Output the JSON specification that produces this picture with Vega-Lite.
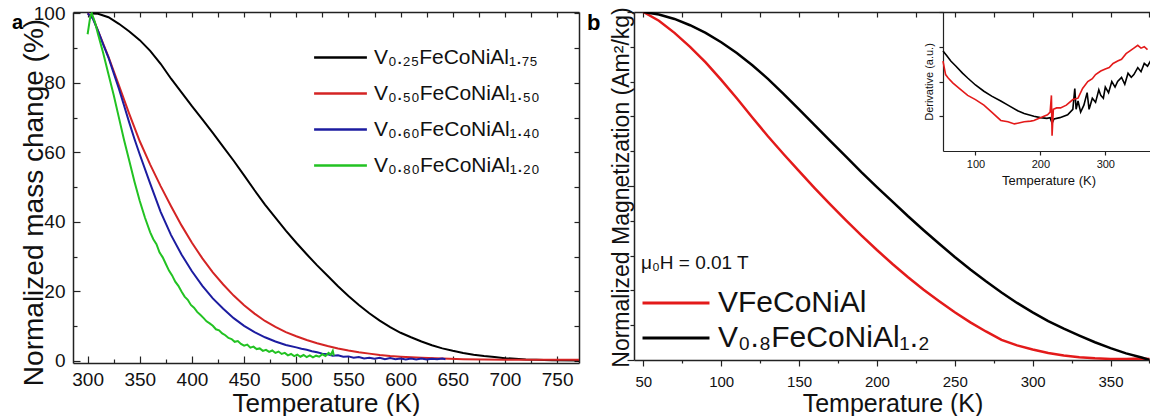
{
  "$schema": "https://vega.github.io/schema/vega-lite/v6.json",
  "padding": {"left": 12, "top": 4, "right": 0, "bottom": 0},
  "background": "white",
  "config": {
    "font": "Liberation Sans",
    "view": {"stroke": null},
    "axis": {"domainColor": "#222222", "domainWidth": 1.5, "tickColor": "#222222", "tickWidth": 1.2, "labelColor": "#111111", "titleColor": "#111111", "grid": false, "titleFontWeight": "normal", "labelFont": "Liberation Sans", "titleFont": "Liberation Sans"},
    "legend": {"labelFont": "Liberation Sans", "titleFont": "Liberation Sans", "labelColor": "#111111", "titleColor": "#111111", "padding": 0},
    "title": {"font": "Liberation Sans", "color": "#000000"}
  },
  "datasets": {
    "mass": [
      {"s": "V₀.₂₅FeCoNiAl₁.₇₅", "T": 303, "m": 100}, {"s": "V₀.₂₅FeCoNiAl₁.₇₅", "T": 310, "m": 99.9}, {"s": "V₀.₂₅FeCoNiAl₁.₇₅", "T": 320, "m": 98.9}, {"s": "V₀.₂₅FeCoNiAl₁.₇₅", "T": 330, "m": 97}, {"s": "V₀.₂₅FeCoNiAl₁.₇₅", "T": 340, "m": 94.8}, {"s": "V₀.₂₅FeCoNiAl₁.₇₅", "T": 350, "m": 92.3}, {"s": "V₀.₂₅FeCoNiAl₁.₇₅", "T": 360, "m": 89.2}, {"s": "V₀.₂₅FeCoNiAl₁.₇₅", "T": 370, "m": 85.5}, {"s": "V₀.₂₅FeCoNiAl₁.₇₅", "T": 380, "m": 81.2}, {"s": "V₀.₂₅FeCoNiAl₁.₇₅", "T": 390, "m": 77.3}, {"s": "V₀.₂₅FeCoNiAl₁.₇₅", "T": 400, "m": 73.3}, {"s": "V₀.₂₅FeCoNiAl₁.₇₅", "T": 410, "m": 69.5}, {"s": "V₀.₂₅FeCoNiAl₁.₇₅", "T": 420, "m": 65.6}, {"s": "V₀.₂₅FeCoNiAl₁.₇₅", "T": 430, "m": 61.6}, {"s": "V₀.₂₅FeCoNiAl₁.₇₅", "T": 440, "m": 57.6}, {"s": "V₀.₂₅FeCoNiAl₁.₇₅", "T": 450, "m": 53.4}, {"s": "V₀.₂₅FeCoNiAl₁.₇₅", "T": 460, "m": 49.1}, {"s": "V₀.₂₅FeCoNiAl₁.₇₅", "T": 470, "m": 45}, {"s": "V₀.₂₅FeCoNiAl₁.₇₅", "T": 480, "m": 41.2}, {"s": "V₀.₂₅FeCoNiAl₁.₇₅", "T": 490, "m": 37.5}, {"s": "V₀.₂₅FeCoNiAl₁.₇₅", "T": 500, "m": 34}, {"s": "V₀.₂₅FeCoNiAl₁.₇₅", "T": 510, "m": 30.7}, {"s": "V₀.₂₅FeCoNiAl₁.₇₅", "T": 520, "m": 27.5}, {"s": "V₀.₂₅FeCoNiAl₁.₇₅", "T": 530, "m": 24.5}, {"s": "V₀.₂₅FeCoNiAl₁.₇₅", "T": 540, "m": 21.5}, {"s": "V₀.₂₅FeCoNiAl₁.₇₅", "T": 550, "m": 18.7}, {"s": "V₀.₂₅FeCoNiAl₁.₇₅", "T": 560, "m": 16.1}, {"s": "V₀.₂₅FeCoNiAl₁.₇₅", "T": 570, "m": 13.7}, {"s": "V₀.₂₅FeCoNiAl₁.₇₅", "T": 580, "m": 11.6}, {"s": "V₀.₂₅FeCoNiAl₁.₇₅", "T": 590, "m": 9.7}, {"s": "V₀.₂₅FeCoNiAl₁.₇₅", "T": 600, "m": 8.1}, {"s": "V₀.₂₅FeCoNiAl₁.₇₅", "T": 610, "m": 6.8}, {"s": "V₀.₂₅FeCoNiAl₁.₇₅", "T": 620, "m": 5.6}, {"s": "V₀.₂₅FeCoNiAl₁.₇₅", "T": 630, "m": 4.5}, {"s": "V₀.₂₅FeCoNiAl₁.₇₅", "T": 640, "m": 3.6}, {"s": "V₀.₂₅FeCoNiAl₁.₇₅", "T": 650, "m": 2.9}, {"s": "V₀.₂₅FeCoNiAl₁.₇₅", "T": 660, "m": 2.3}, {"s": "V₀.₂₅FeCoNiAl₁.₇₅", "T": 670, "m": 1.8}, {"s": "V₀.₂₅FeCoNiAl₁.₇₅", "T": 680, "m": 1.4}, {"s": "V₀.₂₅FeCoNiAl₁.₇₅", "T": 690, "m": 1.1}, {"s": "V₀.₂₅FeCoNiAl₁.₇₅", "T": 700, "m": 0.8}, {"s": "V₀.₂₅FeCoNiAl₁.₇₅", "T": 710, "m": 0.6}, {"s": "V₀.₂₅FeCoNiAl₁.₇₅", "T": 720, "m": 0.4}, {"s": "V₀.₂₅FeCoNiAl₁.₇₅", "T": 730, "m": 0.3}, {"s": "V₀.₂₅FeCoNiAl₁.₇₅", "T": 745, "m": 0.2}, {"s": "V₀.₂₅FeCoNiAl₁.₇₅", "T": 771, "m": 0.1},
      {"s": "V₀.₅₀FeCoNiAl₁.₅₀", "T": 300, "m": 100}, {"s": "V₀.₅₀FeCoNiAl₁.₅₀", "T": 305, "m": 98.8}, {"s": "V₀.₅₀FeCoNiAl₁.₅₀", "T": 310, "m": 95}, {"s": "V₀.₅₀FeCoNiAl₁.₅₀", "T": 320, "m": 87.5}, {"s": "V₀.₅₀FeCoNiAl₁.₅₀", "T": 330, "m": 79.3}, {"s": "V₀.₅₀FeCoNiAl₁.₅₀", "T": 340, "m": 71}, {"s": "V₀.₅₀FeCoNiAl₁.₅₀", "T": 350, "m": 63.2}, {"s": "V₀.₅₀FeCoNiAl₁.₅₀", "T": 360, "m": 56.5}, {"s": "V₀.₅₀FeCoNiAl₁.₅₀", "T": 370, "m": 50.3}, {"s": "V₀.₅₀FeCoNiAl₁.₅₀", "T": 380, "m": 44.5}, {"s": "V₀.₅₀FeCoNiAl₁.₅₀", "T": 390, "m": 39}, {"s": "V₀.₅₀FeCoNiAl₁.₅₀", "T": 400, "m": 34}, {"s": "V₀.₅₀FeCoNiAl₁.₅₀", "T": 410, "m": 29.5}, {"s": "V₀.₅₀FeCoNiAl₁.₅₀", "T": 420, "m": 25.5}, {"s": "V₀.₅₀FeCoNiAl₁.₅₀", "T": 430, "m": 22}, {"s": "V₀.₅₀FeCoNiAl₁.₅₀", "T": 440, "m": 18.8}, {"s": "V₀.₅₀FeCoNiAl₁.₅₀", "T": 450, "m": 16}, {"s": "V₀.₅₀FeCoNiAl₁.₅₀", "T": 460, "m": 13.6}, {"s": "V₀.₅₀FeCoNiAl₁.₅₀", "T": 470, "m": 11.5}, {"s": "V₀.₅₀FeCoNiAl₁.₅₀", "T": 480, "m": 9.8}, {"s": "V₀.₅₀FeCoNiAl₁.₅₀", "T": 490, "m": 8.3}, {"s": "V₀.₅₀FeCoNiAl₁.₅₀", "T": 500, "m": 7.1}, {"s": "V₀.₅₀FeCoNiAl₁.₅₀", "T": 510, "m": 6}, {"s": "V₀.₅₀FeCoNiAl₁.₅₀", "T": 520, "m": 5.1}, {"s": "V₀.₅₀FeCoNiAl₁.₅₀", "T": 530, "m": 4.3}, {"s": "V₀.₅₀FeCoNiAl₁.₅₀", "T": 540, "m": 3.6}, {"s": "V₀.₅₀FeCoNiAl₁.₅₀", "T": 550, "m": 3}, {"s": "V₀.₅₀FeCoNiAl₁.₅₀", "T": 560, "m": 2.5}, {"s": "V₀.₅₀FeCoNiAl₁.₅₀", "T": 570, "m": 2.1}, {"s": "V₀.₅₀FeCoNiAl₁.₅₀", "T": 580, "m": 1.7}, {"s": "V₀.₅₀FeCoNiAl₁.₅₀", "T": 590, "m": 1.4}, {"s": "V₀.₅₀FeCoNiAl₁.₅₀", "T": 600, "m": 1.2}, {"s": "V₀.₅₀FeCoNiAl₁.₅₀", "T": 620, "m": 0.9}, {"s": "V₀.₅₀FeCoNiAl₁.₅₀", "T": 640, "m": 0.7}, {"s": "V₀.₅₀FeCoNiAl₁.₅₀", "T": 660, "m": 0.5}, {"s": "V₀.₅₀FeCoNiAl₁.₅₀", "T": 680, "m": 0.4}, {"s": "V₀.₅₀FeCoNiAl₁.₅₀", "T": 700, "m": 0.3}, {"s": "V₀.₅₀FeCoNiAl₁.₅₀", "T": 771, "m": 0.3},
      {"s": "V₀.₆₀FeCoNiAl₁.₄₀", "T": 300, "m": 100}, {"s": "V₀.₆₀FeCoNiAl₁.₄₀", "T": 305, "m": 98.5}, {"s": "V₀.₆₀FeCoNiAl₁.₄₀", "T": 310, "m": 95}, {"s": "V₀.₆₀FeCoNiAl₁.₄₀", "T": 315, "m": 91}, {"s": "V₀.₆₀FeCoNiAl₁.₄₀", "T": 320, "m": 87.3}, {"s": "V₀.₆₀FeCoNiAl₁.₄₀", "T": 325, "m": 82.8}, {"s": "V₀.₆₀FeCoNiAl₁.₄₀", "T": 330, "m": 78.3}, {"s": "V₀.₆₀FeCoNiAl₁.₄₀", "T": 335, "m": 73.4}, {"s": "V₀.₆₀FeCoNiAl₁.₄₀", "T": 340, "m": 68.5}, {"s": "V₀.₆₀FeCoNiAl₁.₄₀", "T": 345, "m": 63.8}, {"s": "V₀.₆₀FeCoNiAl₁.₄₀", "T": 350, "m": 59.4}, {"s": "V₀.₆₀FeCoNiAl₁.₄₀", "T": 360, "m": 51}, {"s": "V₀.₆₀FeCoNiAl₁.₄₀", "T": 370, "m": 42.9}, {"s": "V₀.₆₀FeCoNiAl₁.₄₀", "T": 380, "m": 36.2}, {"s": "V₀.₆₀FeCoNiAl₁.₄₀", "T": 390, "m": 30.6}, {"s": "V₀.₆₀FeCoNiAl₁.₄₀", "T": 400, "m": 25.8}, {"s": "V₀.₆₀FeCoNiAl₁.₄₀", "T": 410, "m": 21.6}, {"s": "V₀.₆₀FeCoNiAl₁.₄₀", "T": 420, "m": 18}, {"s": "V₀.₆₀FeCoNiAl₁.₄₀", "T": 430, "m": 15}, {"s": "V₀.₆₀FeCoNiAl₁.₄₀", "T": 440, "m": 12.3}, {"s": "V₀.₆₀FeCoNiAl₁.₄₀", "T": 450, "m": 10.1}, {"s": "V₀.₆₀FeCoNiAl₁.₄₀", "T": 460, "m": 8.3}, {"s": "V₀.₆₀FeCoNiAl₁.₄₀", "T": 470, "m": 6.8}, {"s": "V₀.₆₀FeCoNiAl₁.₄₀", "T": 480, "m": 5.6}, {"s": "V₀.₆₀FeCoNiAl₁.₄₀", "T": 490, "m": 4.6}, {"s": "V₀.₆₀FeCoNiAl₁.₄₀", "T": 500, "m": 3.9}, {"s": "V₀.₆₀FeCoNiAl₁.₄₀", "T": 505, "m": 3.5}, {"s": "V₀.₆₀FeCoNiAl₁.₄₀", "T": 510, "m": 3.2}, {"s": "V₀.₆₀FeCoNiAl₁.₄₀", "T": 515, "m": 2.8}, {"s": "V₀.₆₀FeCoNiAl₁.₄₀", "T": 520, "m": 2.5}, {"s": "V₀.₆₀FeCoNiAl₁.₄₀", "T": 525, "m": 2.1}, {"s": "V₀.₆₀FeCoNiAl₁.₄₀", "T": 530, "m": 1.9}, {"s": "V₀.₆₀FeCoNiAl₁.₄₀", "T": 535, "m": 1.5}, {"s": "V₀.₆₀FeCoNiAl₁.₄₀", "T": 540, "m": 1.6}, {"s": "V₀.₆₀FeCoNiAl₁.₄₀", "T": 545, "m": 1.2}, {"s": "V₀.₆₀FeCoNiAl₁.₄₀", "T": 550, "m": 1.3}, {"s": "V₀.₆₀FeCoNiAl₁.₄₀", "T": 555, "m": 0.9}, {"s": "V₀.₆₀FeCoNiAl₁.₄₀", "T": 560, "m": 1.1}, {"s": "V₀.₆₀FeCoNiAl₁.₄₀", "T": 565, "m": 0.7}, {"s": "V₀.₆₀FeCoNiAl₁.₄₀", "T": 570, "m": 0.9}, {"s": "V₀.₆₀FeCoNiAl₁.₄₀", "T": 575, "m": 0.6}, {"s": "V₀.₆₀FeCoNiAl₁.₄₀", "T": 580, "m": 0.9}, {"s": "V₀.₆₀FeCoNiAl₁.₄₀", "T": 585, "m": 0.5}, {"s": "V₀.₆₀FeCoNiAl₁.₄₀", "T": 590, "m": 0.8}, {"s": "V₀.₆₀FeCoNiAl₁.₄₀", "T": 595, "m": 0.5}, {"s": "V₀.₆₀FeCoNiAl₁.₄₀", "T": 600, "m": 0.7}, {"s": "V₀.₆₀FeCoNiAl₁.₄₀", "T": 605, "m": 0.4}, {"s": "V₀.₆₀FeCoNiAl₁.₄₀", "T": 610, "m": 0.7}, {"s": "V₀.₆₀FeCoNiAl₁.₄₀", "T": 615, "m": 0.4}, {"s": "V₀.₆₀FeCoNiAl₁.₄₀", "T": 620, "m": 0.7}, {"s": "V₀.₆₀FeCoNiAl₁.₄₀", "T": 625, "m": 0.4}, {"s": "V₀.₆₀FeCoNiAl₁.₄₀", "T": 630, "m": 0.6}, {"s": "V₀.₆₀FeCoNiAl₁.₄₀", "T": 635, "m": 0.5}, {"s": "V₀.₆₀FeCoNiAl₁.₄₀", "T": 640, "m": 0.7}, {"s": "V₀.₆₀FeCoNiAl₁.₄₀", "T": 643, "m": 0.5},
      {"s": "V₀.₈₀FeCoNiAl₁.₂₀", "T": 300, "m": 94}, {"s": "V₀.₈₀FeCoNiAl₁.₂₀", "T": 301, "m": 96}, {"s": "V₀.₈₀FeCoNiAl₁.₂₀", "T": 302, "m": 98}, {"s": "V₀.₈₀FeCoNiAl₁.₂₀", "T": 303, "m": 99.5}, {"s": "V₀.₈₀FeCoNiAl₁.₂₀", "T": 304, "m": 100}, {"s": "V₀.₈₀FeCoNiAl₁.₂₀", "T": 307, "m": 97.5}, {"s": "V₀.₈₀FeCoNiAl₁.₂₀", "T": 310, "m": 94}, {"s": "V₀.₈₀FeCoNiAl₁.₂₀", "T": 315, "m": 88.5}, {"s": "V₀.₈₀FeCoNiAl₁.₂₀", "T": 320, "m": 82.5}, {"s": "V₀.₈₀FeCoNiAl₁.₂₀", "T": 325, "m": 76.5}, {"s": "V₀.₈₀FeCoNiAl₁.₂₀", "T": 330, "m": 70}, {"s": "V₀.₈₀FeCoNiAl₁.₂₀", "T": 335, "m": 63.5}, {"s": "V₀.₈₀FeCoNiAl₁.₂₀", "T": 340, "m": 57.5}, {"s": "V₀.₈₀FeCoNiAl₁.₂₀", "T": 345, "m": 51.5}, {"s": "V₀.₈₀FeCoNiAl₁.₂₀", "T": 350, "m": 46}, {"s": "V₀.₈₀FeCoNiAl₁.₂₀", "T": 355, "m": 41.2}, {"s": "V₀.₈₀FeCoNiAl₁.₂₀", "T": 360, "m": 37}, {"s": "V₀.₈₀FeCoNiAl₁.₂₀", "T": 363, "m": 35}, {"s": "V₀.₈₀FeCoNiAl₁.₂₀", "T": 366, "m": 33.6}, {"s": "V₀.₈₀FeCoNiAl₁.₂₀", "T": 369, "m": 31.2}, {"s": "V₀.₈₀FeCoNiAl₁.₂₀", "T": 372, "m": 29.8}, {"s": "V₀.₈₀FeCoNiAl₁.₂₀", "T": 375, "m": 27.9}, {"s": "V₀.₈₀FeCoNiAl₁.₂₀", "T": 378, "m": 26}, {"s": "V₀.₈₀FeCoNiAl₁.₂₀", "T": 381, "m": 24.6}, {"s": "V₀.₈₀FeCoNiAl₁.₂₀", "T": 384, "m": 22.8}, {"s": "V₀.₈₀FeCoNiAl₁.₂₀", "T": 387, "m": 21.6}, {"s": "V₀.₈₀FeCoNiAl₁.₂₀", "T": 390, "m": 20}, {"s": "V₀.₈₀FeCoNiAl₁.₂₀", "T": 393, "m": 18.5}, {"s": "V₀.₈₀FeCoNiAl₁.₂₀", "T": 396, "m": 17.6}, {"s": "V₀.₈₀FeCoNiAl₁.₂₀", "T": 399, "m": 16.1}, {"s": "V₀.₈₀FeCoNiAl₁.₂₀", "T": 402, "m": 15.3}, {"s": "V₀.₈₀FeCoNiAl₁.₂₀", "T": 405, "m": 14.1}, {"s": "V₀.₈₀FeCoNiAl₁.₂₀", "T": 408, "m": 13.3}, {"s": "V₀.₈₀FeCoNiAl₁.₂₀", "T": 411, "m": 12.4}, {"s": "V₀.₈₀FeCoNiAl₁.₂₀", "T": 414, "m": 11.4}, {"s": "V₀.₈₀FeCoNiAl₁.₂₀", "T": 417, "m": 10.8}, {"s": "V₀.₈₀FeCoNiAl₁.₂₀", "T": 420, "m": 10.1}, {"s": "V₀.₈₀FeCoNiAl₁.₂₀", "T": 423, "m": 9.1}, {"s": "V₀.₈₀FeCoNiAl₁.₂₀", "T": 426, "m": 8.8}, {"s": "V₀.₈₀FeCoNiAl₁.₂₀", "T": 429, "m": 7.9}, {"s": "V₀.₈₀FeCoNiAl₁.₂₀", "T": 432, "m": 7.4}, {"s": "V₀.₈₀FeCoNiAl₁.₂₀", "T": 435, "m": 6.6}, {"s": "V₀.₈₀FeCoNiAl₁.₂₀", "T": 438, "m": 6.3}, {"s": "V₀.₈₀FeCoNiAl₁.₂₀", "T": 441, "m": 5.5}, {"s": "V₀.₈₀FeCoNiAl₁.₂₀", "T": 444, "m": 5.7}, {"s": "V₀.₈₀FeCoNiAl₁.₂₀", "T": 447, "m": 4.9}, {"s": "V₀.₈₀FeCoNiAl₁.₂₀", "T": 450, "m": 4.4}, {"s": "V₀.₈₀FeCoNiAl₁.₂₀", "T": 453, "m": 4.7}, {"s": "V₀.₈₀FeCoNiAl₁.₂₀", "T": 456, "m": 3.8}, {"s": "V₀.₈₀FeCoNiAl₁.₂₀", "T": 459, "m": 4.1}, {"s": "V₀.₈₀FeCoNiAl₁.₂₀", "T": 462, "m": 3.4}, {"s": "V₀.₈₀FeCoNiAl₁.₂₀", "T": 465, "m": 3.6}, {"s": "V₀.₈₀FeCoNiAl₁.₂₀", "T": 468, "m": 2.9}, {"s": "V₀.₈₀FeCoNiAl₁.₂₀", "T": 471, "m": 3.2}, {"s": "V₀.₈₀FeCoNiAl₁.₂₀", "T": 474, "m": 2.6}, {"s": "V₀.₈₀FeCoNiAl₁.₂₀", "T": 477, "m": 3}, {"s": "V₀.₈₀FeCoNiAl₁.₂₀", "T": 480, "m": 2.3}, {"s": "V₀.₈₀FeCoNiAl₁.₂₀", "T": 483, "m": 2.7}, {"s": "V₀.₈₀FeCoNiAl₁.₂₀", "T": 486, "m": 2}, {"s": "V₀.₈₀FeCoNiAl₁.₂₀", "T": 489, "m": 2.3}, {"s": "V₀.₈₀FeCoNiAl₁.₂₀", "T": 492, "m": 1.6}, {"s": "V₀.₈₀FeCoNiAl₁.₂₀", "T": 495, "m": 2}, {"s": "V₀.₈₀FeCoNiAl₁.₂₀", "T": 498, "m": 1.4}, {"s": "V₀.₈₀FeCoNiAl₁.₂₀", "T": 501, "m": 1.8}, {"s": "V₀.₈₀FeCoNiAl₁.₂₀", "T": 504, "m": 1.2}, {"s": "V₀.₈₀FeCoNiAl₁.₂₀", "T": 507, "m": 1.7}, {"s": "V₀.₈₀FeCoNiAl₁.₂₀", "T": 510, "m": 1.1}, {"s": "V₀.₈₀FeCoNiAl₁.₂₀", "T": 513, "m": 1.6}, {"s": "V₀.₈₀FeCoNiAl₁.₂₀", "T": 516, "m": 1}, {"s": "V₀.₈₀FeCoNiAl₁.₂₀", "T": 519, "m": 1.5}, {"s": "V₀.₈₀FeCoNiAl₁.₂₀", "T": 522, "m": 1.2}, {"s": "V₀.₈₀FeCoNiAl₁.₂₀", "T": 525, "m": 1.9}, {"s": "V₀.₈₀FeCoNiAl₁.₂₀", "T": 528, "m": 1.4}, {"s": "V₀.₈₀FeCoNiAl₁.₂₀", "T": 531, "m": 2.3}, {"s": "V₀.₈₀FeCoNiAl₁.₂₀", "T": 533, "m": 1.8}, {"s": "V₀.₈₀FeCoNiAl₁.₂₀", "T": 535, "m": 2.9}, {"s": "V₀.₈₀FeCoNiAl₁.₂₀", "T": 536, "m": 1.5}
    ],
    "mag": [
      {"s": "VFeCoNiAl", "T": 50, "M": 1.0}, {"s": "VFeCoNiAl", "T": 60, "M": 0.975}, {"s": "VFeCoNiAl", "T": 70, "M": 0.94}, {"s": "VFeCoNiAl", "T": 80, "M": 0.9}, {"s": "VFeCoNiAl", "T": 90, "M": 0.855}, {"s": "VFeCoNiAl", "T": 100, "M": 0.805}, {"s": "VFeCoNiAl", "T": 110, "M": 0.752}, {"s": "VFeCoNiAl", "T": 120, "M": 0.697}, {"s": "VFeCoNiAl", "T": 130, "M": 0.643}, {"s": "VFeCoNiAl", "T": 140, "M": 0.592}, {"s": "VFeCoNiAl", "T": 150, "M": 0.543}, {"s": "VFeCoNiAl", "T": 160, "M": 0.494}, {"s": "VFeCoNiAl", "T": 170, "M": 0.447}, {"s": "VFeCoNiAl", "T": 180, "M": 0.402}, {"s": "VFeCoNiAl", "T": 190, "M": 0.358}, {"s": "VFeCoNiAl", "T": 200, "M": 0.316}, {"s": "VFeCoNiAl", "T": 210, "M": 0.276}, {"s": "VFeCoNiAl", "T": 220, "M": 0.238}, {"s": "VFeCoNiAl", "T": 230, "M": 0.202}, {"s": "VFeCoNiAl", "T": 240, "M": 0.169}, {"s": "VFeCoNiAl", "T": 250, "M": 0.137}, {"s": "VFeCoNiAl", "T": 260, "M": 0.108}, {"s": "VFeCoNiAl", "T": 270, "M": 0.082}, {"s": "VFeCoNiAl", "T": 280, "M": 0.058}, {"s": "VFeCoNiAl", "T": 290, "M": 0.042}, {"s": "VFeCoNiAl", "T": 300, "M": 0.03}, {"s": "VFeCoNiAl", "T": 310, "M": 0.02}, {"s": "VFeCoNiAl", "T": 320, "M": 0.013}, {"s": "VFeCoNiAl", "T": 330, "M": 0.008}, {"s": "VFeCoNiAl", "T": 340, "M": 0.005}, {"s": "VFeCoNiAl", "T": 350, "M": 0.003}, {"s": "VFeCoNiAl", "T": 360, "M": 0.003}, {"s": "VFeCoNiAl", "T": 370, "M": 0.004}, {"s": "VFeCoNiAl", "T": 375, "M": 0.003},
      {"s": "V₀.₈FeCoNiAl₁.₂", "T": 50, "M": 1.0}, {"s": "V₀.₈FeCoNiAl₁.₂", "T": 60, "M": 0.993}, {"s": "V₀.₈FeCoNiAl₁.₂", "T": 70, "M": 0.98}, {"s": "V₀.₈FeCoNiAl₁.₂", "T": 80, "M": 0.962}, {"s": "V₀.₈FeCoNiAl₁.₂", "T": 90, "M": 0.94}, {"s": "V₀.₈FeCoNiAl₁.₂", "T": 100, "M": 0.913}, {"s": "V₀.₈FeCoNiAl₁.₂", "T": 110, "M": 0.882}, {"s": "V₀.₈FeCoNiAl₁.₂", "T": 120, "M": 0.847}, {"s": "V₀.₈FeCoNiAl₁.₂", "T": 130, "M": 0.808}, {"s": "V₀.₈FeCoNiAl₁.₂", "T": 140, "M": 0.765}, {"s": "V₀.₈FeCoNiAl₁.₂", "T": 150, "M": 0.72}, {"s": "V₀.₈FeCoNiAl₁.₂", "T": 160, "M": 0.675}, {"s": "V₀.₈FeCoNiAl₁.₂", "T": 170, "M": 0.63}, {"s": "V₀.₈FeCoNiAl₁.₂", "T": 180, "M": 0.585}, {"s": "V₀.₈FeCoNiAl₁.₂", "T": 190, "M": 0.54}, {"s": "V₀.₈FeCoNiAl₁.₂", "T": 200, "M": 0.497}, {"s": "V₀.₈FeCoNiAl₁.₂", "T": 210, "M": 0.455}, {"s": "V₀.₈FeCoNiAl₁.₂", "T": 220, "M": 0.413}, {"s": "V₀.₈FeCoNiAl₁.₂", "T": 230, "M": 0.373}, {"s": "V₀.₈FeCoNiAl₁.₂", "T": 240, "M": 0.334}, {"s": "V₀.₈FeCoNiAl₁.₂", "T": 250, "M": 0.296}, {"s": "V₀.₈FeCoNiAl₁.₂", "T": 260, "M": 0.26}, {"s": "V₀.₈FeCoNiAl₁.₂", "T": 270, "M": 0.226}, {"s": "V₀.₈FeCoNiAl₁.₂", "T": 280, "M": 0.194}, {"s": "V₀.₈FeCoNiAl₁.₂", "T": 290, "M": 0.164}, {"s": "V₀.₈FeCoNiAl₁.₂", "T": 300, "M": 0.137}, {"s": "V₀.₈FeCoNiAl₁.₂", "T": 310, "M": 0.112}, {"s": "V₀.₈FeCoNiAl₁.₂", "T": 320, "M": 0.09}, {"s": "V₀.₈FeCoNiAl₁.₂", "T": 330, "M": 0.07}, {"s": "V₀.₈FeCoNiAl₁.₂", "T": 340, "M": 0.051}, {"s": "V₀.₈FeCoNiAl₁.₂", "T": 350, "M": 0.034}, {"s": "V₀.₈FeCoNiAl₁.₂", "T": 360, "M": 0.019}, {"s": "V₀.₈FeCoNiAl₁.₂", "T": 370, "M": 0.007}, {"s": "V₀.₈FeCoNiAl₁.₂", "T": 375, "M": 0.0}
    ],
    "deriv": [
      {"s": "V₀.₈FeCoNiAl₁.₂", "T": 50, "d": 0.72}, {"s": "V₀.₈FeCoNiAl₁.₂", "T": 55, "d": 0.69}, {"s": "V₀.₈FeCoNiAl₁.₂", "T": 62, "d": 0.647}, {"s": "V₀.₈FeCoNiAl₁.₂", "T": 70, "d": 0.61}, {"s": "V₀.₈FeCoNiAl₁.₂", "T": 80, "d": 0.56}, {"s": "V₀.₈FeCoNiAl₁.₂", "T": 88, "d": 0.525}, {"s": "V₀.₈FeCoNiAl₁.₂", "T": 100, "d": 0.475}, {"s": "V₀.₈FeCoNiAl₁.₂", "T": 113, "d": 0.43}, {"s": "V₀.₈FeCoNiAl₁.₂", "T": 125, "d": 0.395}, {"s": "V₀.₈FeCoNiAl₁.₂", "T": 139, "d": 0.36}, {"s": "V₀.₈FeCoNiAl₁.₂", "T": 150, "d": 0.33}, {"s": "V₀.₈FeCoNiAl₁.₂", "T": 165, "d": 0.29}, {"s": "V₀.₈FeCoNiAl₁.₂", "T": 175, "d": 0.27}, {"s": "V₀.₈FeCoNiAl₁.₂", "T": 190, "d": 0.25}, {"s": "V₀.₈FeCoNiAl₁.₂", "T": 200, "d": 0.24}, {"s": "V₀.₈FeCoNiAl₁.₂", "T": 210, "d": 0.235}, {"s": "V₀.₈FeCoNiAl₁.₂", "T": 215, "d": 0.24}, {"s": "V₀.₈FeCoNiAl₁.₂", "T": 218, "d": 0.2}, {"s": "V₀.₈FeCoNiAl₁.₂", "T": 221, "d": 0.23}, {"s": "V₀.₈FeCoNiAl₁.₂", "T": 230, "d": 0.24}, {"s": "V₀.₈FeCoNiAl₁.₂", "T": 242, "d": 0.26}, {"s": "V₀.₈FeCoNiAl₁.₂", "T": 250, "d": 0.3}, {"s": "V₀.₈FeCoNiAl₁.₂", "T": 253, "d": 0.45}, {"s": "V₀.₈FeCoNiAl₁.₂", "T": 255, "d": 0.3}, {"s": "V₀.₈FeCoNiAl₁.₂", "T": 258, "d": 0.36}, {"s": "V₀.₈FeCoNiAl₁.₂", "T": 262, "d": 0.28}, {"s": "V₀.₈FeCoNiAl₁.₂", "T": 267, "d": 0.33}, {"s": "V₀.₈FeCoNiAl₁.₂", "T": 272, "d": 0.42}, {"s": "V₀.₈FeCoNiAl₁.₂", "T": 275, "d": 0.3}, {"s": "V₀.₈FeCoNiAl₁.₂", "T": 280, "d": 0.38}, {"s": "V₀.₈FeCoNiAl₁.₂", "T": 285, "d": 0.35}, {"s": "V₀.₈FeCoNiAl₁.₂", "T": 290, "d": 0.44}, {"s": "V₀.₈FeCoNiAl₁.₂", "T": 293, "d": 0.4}, {"s": "V₀.₈FeCoNiAl₁.₂", "T": 297, "d": 0.38}, {"s": "V₀.₈FeCoNiAl₁.₂", "T": 300, "d": 0.46}, {"s": "V₀.₈FeCoNiAl₁.₂", "T": 305, "d": 0.42}, {"s": "V₀.₈FeCoNiAl₁.₂", "T": 310, "d": 0.5}, {"s": "V₀.₈FeCoNiAl₁.₂", "T": 315, "d": 0.46}, {"s": "V₀.₈FeCoNiAl₁.₂", "T": 319, "d": 0.5}, {"s": "V₀.₈FeCoNiAl₁.₂", "T": 325, "d": 0.53}, {"s": "V₀.₈FeCoNiAl₁.₂", "T": 330, "d": 0.48}, {"s": "V₀.₈FeCoNiAl₁.₂", "T": 335, "d": 0.56}, {"s": "V₀.₈FeCoNiAl₁.₂", "T": 340, "d": 0.53}, {"s": "V₀.₈FeCoNiAl₁.₂", "T": 344, "d": 0.55}, {"s": "V₀.₈FeCoNiAl₁.₂", "T": 350, "d": 0.6}, {"s": "V₀.₈FeCoNiAl₁.₂", "T": 355, "d": 0.57}, {"s": "V₀.₈FeCoNiAl₁.₂", "T": 360, "d": 0.63}, {"s": "V₀.₈FeCoNiAl₁.₂", "T": 365, "d": 0.61}, {"s": "V₀.₈FeCoNiAl₁.₂", "T": 370, "d": 0.65},
      {"s": "VFeCoNiAl", "T": 50, "d": 0.647}, {"s": "VFeCoNiAl", "T": 54, "d": 0.55}, {"s": "VFeCoNiAl", "T": 58, "d": 0.525}, {"s": "VFeCoNiAl", "T": 65, "d": 0.49}, {"s": "VFeCoNiAl", "T": 75, "d": 0.45}, {"s": "VFeCoNiAl", "T": 88, "d": 0.4}, {"s": "VFeCoNiAl", "T": 100, "d": 0.37}, {"s": "VFeCoNiAl", "T": 113, "d": 0.33}, {"s": "VFeCoNiAl", "T": 125, "d": 0.28}, {"s": "VFeCoNiAl", "T": 139, "d": 0.22}, {"s": "VFeCoNiAl", "T": 150, "d": 0.21}, {"s": "VFeCoNiAl", "T": 160, "d": 0.195}, {"s": "VFeCoNiAl", "T": 165, "d": 0.2}, {"s": "VFeCoNiAl", "T": 175, "d": 0.21}, {"s": "VFeCoNiAl", "T": 185, "d": 0.215}, {"s": "VFeCoNiAl", "T": 190, "d": 0.22}, {"s": "VFeCoNiAl", "T": 200, "d": 0.24}, {"s": "VFeCoNiAl", "T": 211, "d": 0.26}, {"s": "VFeCoNiAl", "T": 215, "d": 0.28}, {"s": "VFeCoNiAl", "T": 217, "d": 0.4}, {"s": "VFeCoNiAl", "T": 218, "d": 0.11}, {"s": "VFeCoNiAl", "T": 220, "d": 0.3}, {"s": "VFeCoNiAl", "T": 225, "d": 0.31}, {"s": "VFeCoNiAl", "T": 231, "d": 0.31}, {"s": "VFeCoNiAl", "T": 240, "d": 0.33}, {"s": "VFeCoNiAl", "T": 250, "d": 0.37}, {"s": "VFeCoNiAl", "T": 258, "d": 0.38}, {"s": "VFeCoNiAl", "T": 265, "d": 0.45}, {"s": "VFeCoNiAl", "T": 273, "d": 0.5}, {"s": "VFeCoNiAl", "T": 280, "d": 0.52}, {"s": "VFeCoNiAl", "T": 285, "d": 0.55}, {"s": "VFeCoNiAl", "T": 293, "d": 0.575}, {"s": "VFeCoNiAl", "T": 300, "d": 0.59}, {"s": "VFeCoNiAl", "T": 306, "d": 0.6}, {"s": "VFeCoNiAl", "T": 312, "d": 0.63}, {"s": "VFeCoNiAl", "T": 319, "d": 0.647}, {"s": "VFeCoNiAl", "T": 325, "d": 0.66}, {"s": "VFeCoNiAl", "T": 332, "d": 0.7}, {"s": "VFeCoNiAl", "T": 338, "d": 0.72}, {"s": "VFeCoNiAl", "T": 344, "d": 0.74}, {"s": "VFeCoNiAl", "T": 350, "d": 0.76}, {"s": "VFeCoNiAl", "T": 355, "d": 0.74}, {"s": "VFeCoNiAl", "T": 360, "d": 0.75}, {"s": "VFeCoNiAl", "T": 365, "d": 0.73}
    ]
  },
  "hconcat": [
    {
      "width": 506,
      "height": 351,
      "title": {"text": "a", "anchor": "start", "frame": "bounds", "fontSize": 20, "fontWeight": "bold", "offset": -29, "dx": -8},
      "layer": [
        {
          "data": {"name": "mass"},
          "mark": {"type": "line", "strokeWidth": 2, "clip": true},
          "encoding": {
            "x": {"field": "T", "type": "quantitative", "scale": {"domain": [286, 771], "nice": false, "zero": false},
              "axis": {"orient": "bottom", "values": [300, 325, 350, 375, 400, 425, 450, 475, 500, 525, 550, 575, 600, 625, 650, 675, 700, 725, 750],
                "labelExpr": "datum.value % 50 === 0 ? datum.label : ''",
                "tickSize": {"condition": {"test": "datum.value % 50 === 0", "value": -7}, "value": -4},
                "labelPadding": 14, "labelFontSize": 19, "labelOverlap": false, "labelFlush": false,
                "title": "Temperature (K)", "titleFontSize": 26, "titleY": 27, "titleBaseline": "top"}},
            "y": {"field": "m", "type": "quantitative", "scale": {"domain": [-0.6, 100.4], "nice": false, "zero": false},
              "axis": {"orient": "left", "values": [0, 10, 20, 30, 40, 50, 60, 70, 80, 90, 100],
                "labelExpr": "datum.value % 20 === 0 ? datum.label : ''",
                "tickSize": {"condition": {"test": "datum.value % 20 === 0", "value": -7}, "value": -4},
                "labelPadding": 15, "labelFontSize": 19, "labelOverlap": false, "labelFlush": false,
                "title": "Normalized mass change (%)", "titleFontSize": 28, "titleX": -31, "titleY": 190, "titleBaseline": "alphabetic"}},
            "color": {"field": "s", "type": "nominal",
              "scale": {"domain": ["V₀.₂₅FeCoNiAl₁.₇₅", "V₀.₅₀FeCoNiAl₁.₅₀", "V₀.₆₀FeCoNiAl₁.₄₀", "V₀.₈₀FeCoNiAl₁.₂₀"], "range": ["#000000", "#d42424", "#1c1ca0", "#22c222"]},
              "legend": {"orient": "none", "legendX": 242, "legendY": 20, "title": null, "symbolType": "M-1.1,0H1.1", "symbolSize": 2304, "symbolStrokeWidth": 2.5, "labelFontSize": 21, "labelOffset": 8, "rowPadding": 0, "labelLimit": 400}}
          }
        },
        {
          "data": {"name": "mass"},
          "mark": {"type": "line", "opacity": 0},
          "encoding": {
            "x": {"field": "T", "type": "quantitative", "scale": {"domain": [286, 771], "nice": false, "zero": false},
              "axis": {"orient": "top", "values": [300, 325, 350, 375, 400, 425, 450, 475, 500, 525, 550, 575, 600, 625, 650, 675, 700, 725, 750], "labels": false, "title": null, "tickSize": -5}},
            "y": {"field": "m", "type": "quantitative", "scale": {"domain": [-0.6, 100.4], "nice": false, "zero": false},
              "axis": {"orient": "right", "values": [0, 10, 20, 30, 40, 50, 60, 70, 80, 90, 100], "labels": false, "title": null, "tickSize": -5}}
          }
        }
      ]
    },
    {
      "width": 517,
      "height": 348,
      "title": {"text": "b", "anchor": "start", "frame": "bounds", "fontSize": 22, "fontWeight": "bold", "offset": -28, "dx": -23},
      "layer": [
        {
          "data": {"name": "mag"},
          "mark": {"type": "line", "strokeWidth": 2.5, "clip": true},
          "encoding": {
            "x": {"field": "T", "type": "quantitative", "scale": {"domain": [44, 376], "nice": false, "zero": false},
              "axis": {"orient": "bottom", "values": [50, 75, 100, 125, 150, 175, 200, 225, 250, 275, 300, 325, 350, 375],
                "labelExpr": "datum.value % 50 === 0 ? datum.label : ''",
                "tickSize": {"condition": {"test": "datum.value % 50 === 0", "value": 6}, "value": 3},
                "labelPadding": 8, "labelFontSize": 15, "labelOverlap": false, "labelFlush": false,
                "title": "Temperature (K)", "titleFontSize": 25, "titleY": 31, "titleBaseline": "top"}},
            "y": {"field": "M", "type": "quantitative", "scale": {"domain": [0, 1], "nice": false},
              "axis": {"orient": "left", "values": [0, 0.1, 0.2, 0.3, 0.4, 0.5, 0.6, 0.7, 0.8, 0.9, 1], "labels": false,
                "tickSize": {"condition": {"test": "abs(datum.value - 0.5) < 0.01 || datum.value < 0.01 || datum.value > 0.99", "value": 7}, "value": 4},
                "title": "Normalized Magnetization (Am²/kg)", "titleFontSize": 23, "titleX": -6, "titleY": 175, "titleBaseline": "alphabetic"}},
            "color": {"field": "s", "type": "nominal",
              "scale": {"domain": ["VFeCoNiAl", "V₀.₈FeCoNiAl₁.₂"], "range": ["#e31a1a", "#000000"]},
              "legend": {"orient": "none", "legendX": 7, "legendY": 242, "title": "μ₀H = 0.01 T", "titleFontSize": 19, "titleFontWeight": "normal", "titlePadding": 10, "symbolType": "M-1.81,0H1.81", "symbolSize": 1369, "symbolOffset": 15, "symbolStrokeWidth": 3, "labelFontSize": 30, "labelOffset": 22, "rowPadding": 0, "labelLimit": 400}}
          }
        },
        {
          "data": {"name": "mag"},
          "mark": {"type": "line", "opacity": 0},
          "encoding": {
            "x": {"field": "T", "type": "quantitative", "scale": {"domain": [44, 376], "nice": false, "zero": false},
              "axis": {"orient": "top", "values": [50, 75, 100, 125, 150, 175, 200, 225, 250, 275, 300, 325, 350, 375], "labels": false, "title": null, "tickSize": -5}},
            "y": {"field": "M", "type": "quantitative", "scale": {"domain": [0, 1], "nice": false}, "axis": null}
          }
        },
        {
          "data": {"name": "deriv"},
          "mark": {"type": "line", "strokeWidth": 1.6, "clip": false},
          "encoding": {
            "x": {"field": "T", "type": "quantitative", "scale": {"domain": [50, 375], "range": [309, 520], "nice": false, "zero": false},
              "axis": {"orient": "bottom", "offset": -209, "values": [100, 200, 300], "tickSize": 4, "labelFontSize": 11, "labelPadding": 3, "domainWidth": 1.2,
                "title": "Temperature (K)", "titleFontSize": 13, "titlePadding": 5}},
            "y": {"field": "d", "type": "quantitative", "scale": {"domain": [0, 1], "range": [139, 0], "nice": false},
              "axis": {"orient": "left", "offset": -309, "values": [0.25, 0.5, 0.75, 1], "labels": false, "tickSize": 4, "domainWidth": 1.2,
                "title": "Derivative (a.u.)", "titleFontSize": 11, "titlePadding": 4}},
            "color": {"field": "s", "type": "nominal"}
          }
        }
      ],
      "resolve": {"scale": {"x": "independent", "y": "independent"}}
    }
  ],
  "spacing": 7,
  "resolve": {"scale": {"color": "independent"}, "legend": {"color": "independent"}}
}
